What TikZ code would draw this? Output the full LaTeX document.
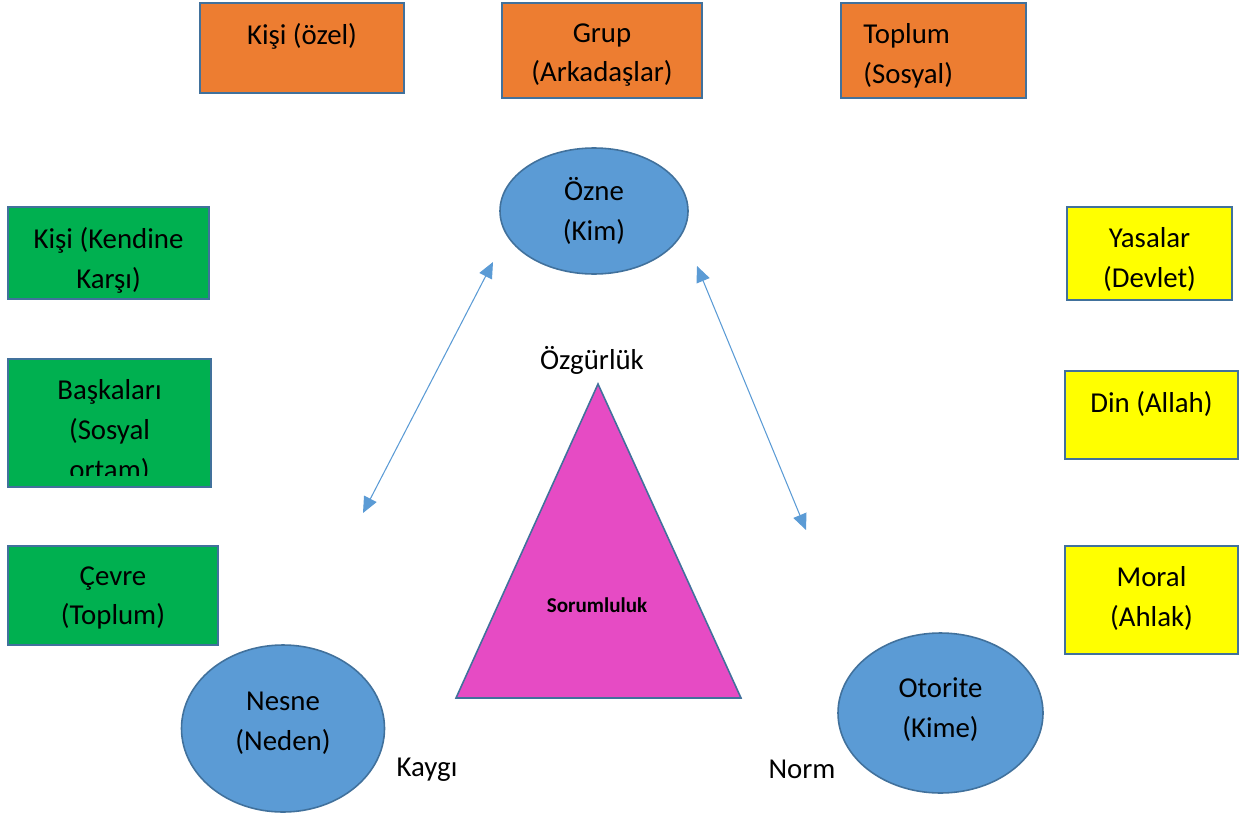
\documentclass[tikz,border=0pt]{standalone}
\usepackage{fontspec}
\setmainfont{Carlito}
\usetikzlibrary{positioning}
\usetikzlibrary{arrows.meta}
\usetikzlibrary{shapes.geometric}

\definecolor{orangebox}{HTML}{ED7D31}
\definecolor{greenbox}{HTML}{00B050}
\definecolor{yellowbox}{HTML}{FFFF00}
\definecolor{boxline}{HTML}{41719C}
\definecolor{bubble}{HTML}{5B9BD5}
\definecolor{pyramid}{HTML}{E64BC4}

\begin{document}
\begin{tikzpicture}[
        box/.style={draw=boxline, line width=1.1pt, inner sep=0pt},
        bubblenode/.style={ellipse, draw=boxline, fill=bubble, line width=0.9pt, inner sep=0pt},
        txt/.style={align=center, inner sep=0pt, font={\fontsize{16.4}{22.7}\selectfont}},
        conn/.style={draw=bubble, line width=0.6pt, {Triangle[length=0.32cm,width=0.28cm]}-{Triangle[length=0.32cm,width=0.28cm]}}
    ]
        \useasboundingbox (0,0) rectangle (24.86,-16.34);

        \node[box, fill=orangebox, minimum width=4.08cm, minimum height=1.8cm] (kisi) at (6.04,-0.96) {};
        \node[txt, below=0.42cm of kisi.north] (kisitxt) {Kişi (özel)};
        \node[box, fill=orangebox, minimum width=4.0cm, minimum height=1.9cm] (grup) at (12.04,-1.01) {};
        \node[txt, below=0.42cm of grup.north] (gruptxt) {Grup\\(Arkadaşlar)};
        \node[box, fill=orangebox, minimum width=3.7cm, minimum height=1.9cm] (toplum) at (18.67,-1.01) {};
        \node[txt, align=left, below right=0.42cm and 0.46cm of toplum.north west] (toplumtxt) {Toplum\\(Sosyal)};

        \node[box, fill=greenbox, minimum width=4.02cm, minimum height=1.84cm] (kendine) at (2.17,-5.06) {};
        \node[txt, below=0.42cm of kendine.north] (kendinetxt) {Kişi (Kendine\\Karşı)};
        \node[box, fill=greenbox, minimum width=4.06cm, minimum height=2.56cm] (baska) at (2.19,-8.46) {};
        \begin{scope}
            \clip (0.2,-7.2) rectangle (4.2,-9.5);
            \node[txt, below=0.42cm of baska.north] (baskatxt) {Başkaları\\(Sosyal\\ortam)};
        \end{scope}
        \node[box, fill=greenbox, minimum width=4.2cm, minimum height=1.98cm] (cevre) at (2.26,-11.91) {};
        \node[txt, below=0.42cm of cevre.north] (cevretxt) {Çevre\\(Toplum)};

        \node[box, fill=yellowbox, minimum width=3.3cm, minimum height=1.86cm] (yasa) at (22.99,-5.07) {};
        \node[txt, below=0.42cm of yasa.north] (yasatxt) {Yasalar\\(Devlet)};
        \node[box, fill=yellowbox, minimum width=3.46cm, minimum height=1.76cm] (din) at (23.03,-8.30) {};
        \node[txt, below=0.42cm of din.north] (dintxt) {Din (Allah)};
        \node[box, fill=yellowbox, minimum width=3.46cm, minimum height=2.16cm] (moral) at (23.03,-12.0) {};
        \node[txt, below=0.42cm of moral.north] (moraltxt) {Moral\\(Ahlak)};

        \node[bubblenode, minimum width=3.76cm, minimum height=2.52cm] (ozne) at (11.88,-4.22) {};
        \node[txt] (oznetxt) at (ozne) {Özne\\(Kim)};
        \node[bubblenode, minimum width=4.06cm, minimum height=3.34cm] (nesne) at (5.66,-14.57) {};
        \node[txt, yshift=0.11cm] (nesnetxt) at (nesne) {Nesne\\(Neden)};
        \node[bubblenode, minimum width=4.1cm, minimum height=3.2cm] (otorite) at (18.81,-14.26) {};
        \node[txt, yshift=0.07cm] (otoritetxt) at (otorite) {Otorite\\(Kime)};

        \coordinate (top) at (11.96,-7.68);
        \coordinate (left) at (9.12,-13.96);
        \coordinate (right) at (14.82,-13.96);
        \draw[draw=boxline, fill=pyramid, line width=0.9pt] (top) -- (left) -- (right) -- cycle;
        \node[inner sep=0pt, font={\fontsize{12}{14}\selectfont\bfseries}] (sorumluluk) at (11.94,-12.1) {Sorumluluk};
        \node[txt] (ozgurluk) at (11.84,-7.2) {Özgürlük};
        \node[txt] (kaygi) at (8.54,-15.4) {Kaygı};
        \node[txt] (norm) at (16.04,-15.38) {Norm};

        \coordinate (lup) at (9.86,-5.24);
        \coordinate (ldown) at (7.26,-10.26);
        \coordinate (rup) at (13.94,-5.32);
        \coordinate (rdown) at (16.12,-10.6);
        \draw[conn] (lup) -- (ldown);
        \draw[conn] (rup) -- (rdown);
    \end{tikzpicture}
\end{document}
